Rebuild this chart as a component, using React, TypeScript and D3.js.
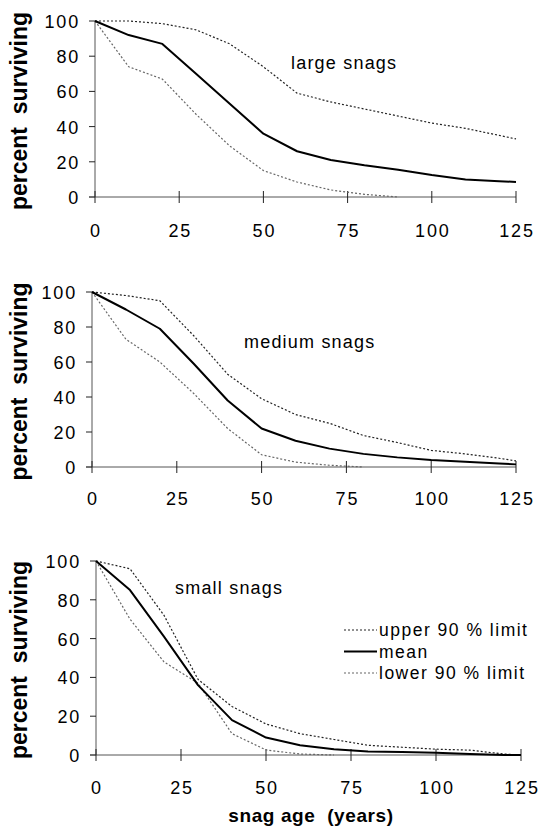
import * as d3 from "d3";

// snag age (years) at which the survival curves were read
const ages = [0, 10, 20, 30, 40, 50, 60, 70, 80, 90, 100, 110, 120, 125];
const xTicks = [0, 25, 50, 75, 100, 125];
const yTicks = [0, 20, 40, 60, 80, 100];

const largeMean = [100, 92, 87, 70, 53, 36, 26, 21, 18, 15.5, 12.5, 10, 9, 8.5];
const largeUpper = [100, 100, 98.5, 95, 87, 74, 59, 54, 50, 46, 42, 39, 35, 33];
const largeLower = [100, 74, 67, 47, 29, 15, 8.5, 4, 1.5, 0, null, null, null, null];

const mediumMean = [100, 90, 79, 59, 38, 22, 15, 10.5, 7.5, 5.5, 4, 3, 2, 1.5];
const mediumUpper = [100, 98, 95, 75, 53, 39, 30, 25, 18, 14, 9.5, 7.5, 5, 3.5];
const mediumLower = [100, 73, 60, 42, 22, 7, 2.8, 1, 0, null, null, null, null, null];

const smallMean = [100, 85, 61, 36, 18, 9, 5, 3, 1.8, 1.5, 1.2, 0.5, 0, 0];
const smallUpper = [100, 96, 72, 39, 25, 16, 11, 8, 5, 4, 3, 2.5, 0.5, 0];
const smallLower = [100, 70, 48, 37, 11, 2.6, 0.5, 0, null, null, null, null, null, null];

const legendItems = ["upper 90 % limit", "mean", "lower 90 % limit"];

const FONT = "'Liberation Sans', Arial, sans-serif";
const W = 539;
const H = 829;

const panels = [
  { title: "large snags", tx: 291, ty: 69, x0: 95, x1: 516, top: 21, bottom: 197, labY: 237,
    mean: largeMean, upper: largeUpper, lower: largeLower },
  { title: "medium snags", tx: 244, ty: 348, x0: 92, x1: 516, top: 292, bottom: 467, labY: 505,
    mean: mediumMean, upper: mediumUpper, lower: mediumLower },
  { title: "small snags", tx: 175, ty: 594, x0: 96, x1: 521, top: 561, bottom: 755, labY: 794,
    mean: smallMean, upper: smallUpper, lower: smallLower },
];

const lineStyle = {
  upper: { stroke: "#222", width: 1.2, dash: "2,2" },
  mean: { stroke: "#000", width: 2, dash: null },
  lower: { stroke: "#666", width: 1.2, dash: "2,2" },
};

function Panel({ p }) {
  const x = d3.scaleLinear().domain([0, 125]).range([p.x0, p.x1]);
  const y = d3.scaleLinear().domain([0, 100]).range([p.bottom, p.top]);
  const line = d3
    .line<number | null>()
    .defined((d) => d !== null)
    .x((_, i) => x(ages[i]))
    .y((d) => y(d as number));

  const series = [
    { key: "upper", values: p.upper },
    { key: "lower", values: p.lower },
    { key: "mean", values: p.mean },
  ];

  return (
    <g>
      {/* y axis */}
      <line x1={x(0)} x2={x(0)} y1={y(0)} y2={y(100)} stroke="#555" />
      {yTicks.map((t) => (
        <g key={"y" + t}>
          <line x1={x(0) - 6} x2={x(0)} y1={y(t)} y2={y(t)} stroke="#222" />
          <text x={x(0) - 15} y={y(t) + 7} textAnchor="end" fontSize={18} letterSpacing={1.8} fontFamily={FONT}>
            {t}
          </text>
        </g>
      ))}
      {/* x axis */}
      <line x1={x(0) - 6} x2={x(125)} y1={y(0)} y2={y(0)} stroke="#555" />
      {xTicks.map((t) => (
        <g key={"x" + t}>
          <line x1={x(t)} x2={x(t)} y1={y(0) - 6} y2={y(0) + 6} stroke="#222" />
          <text x={x(t) + 1} y={p.labY} textAnchor="middle" fontSize={18} letterSpacing={1.8} fontFamily={FONT}>
            {t}
          </text>
        </g>
      ))}
      {series.map((s) => {
        const st = lineStyle[s.key];
        return (
          <path
            key={s.key}
            d={line(s.values) || ""}
            fill="none"
            stroke={st.stroke}
            strokeWidth={st.width}
            strokeDasharray={st.dash || undefined}
            strokeLinejoin="round"
          />
        );
      })}
      <text x={p.tx} y={p.ty} fontSize={18} letterSpacing={1.2} fontFamily={FONT}>
        {p.title}
      </text>
      <text
        transform={`translate(27,${(p.top + p.bottom) / 2 + 2}) rotate(-90)`}
        textAnchor="middle"
        fontSize={23}
        fontWeight="bold"
        fontFamily={FONT}
        style={{ whiteSpace: "pre" }}
      >
        {"percent  surviving"}
      </text>
    </g>
  );
}

export default function App() {
  const legendKeys = ["upper", "mean", "lower"];
  const legendY = d3.scalePoint().domain(legendItems).range([630, 673]);
  return (
    <svg
      width={W}
      height={H}
      style={{ position: "absolute", left: 0, top: 0, background: "#fff" }}
    >
      {panels.map((p) => (
        <Panel key={p.title} p={p} />
      ))}
      {legendItems.map((label, i) => {
        const key = legendKeys[i];
        const st = lineStyle[key];
        const ly = legendY(label) as number;
        return (
          <g key={label}>
            <line
              x1={344}
              x2={377}
              y1={ly}
              y2={ly}
              stroke={st.stroke}
              strokeWidth={st.width}
              strokeDasharray={st.dash || undefined}
            />
            <text x={379} y={ly + 6} fontSize={17.5} letterSpacing={1.5} fontFamily={FONT}>
              {label}
            </text>
          </g>
        );
      })}
      <text
        x={311}
        y={822}
        textAnchor="middle"
        fontSize={19}
        fontWeight="bold"
        letterSpacing={0.6}
        fontFamily={FONT}
        style={{ whiteSpace: "pre" }}
      >
        {"snag age  (years)"}
      </text>
    </svg>
  );
}
